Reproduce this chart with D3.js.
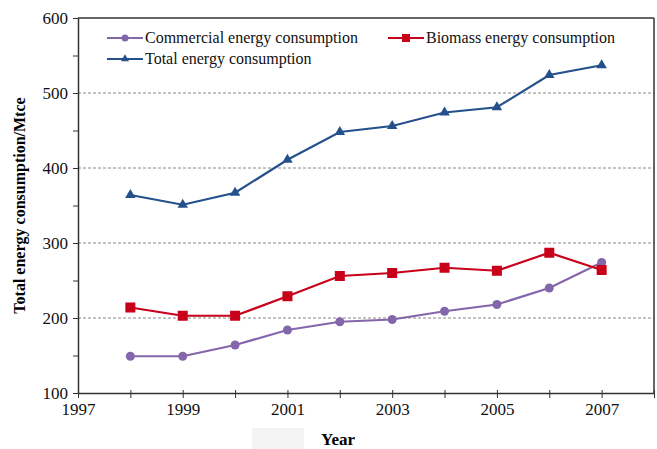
<!DOCTYPE html>
<html>
<head>
<meta charset="utf-8">
<script src="https://cdn.jsdelivr.net/npm/d3@7"></script>
<style>
  body { margin: 0; background: #fff; }
  svg text { font-family: "Liberation Serif", "Times New Roman", serif; }
</style>
</head>
<body>
<svg id="chart" width="657" height="449"></svg>
<script>
// Data
const years = [1998, 1999, 2000, 2001, 2002, 2003, 2004, 2005, 2006, 2007];
const commercial = [149, 149, 164, 184, 195, 198, 209, 218, 240, 274];
const biomass = [214, 203, 203, 229, 256, 260, 267, 263, 287, 264];
const total = [364, 351, 367, 411, 448, 456, 474, 481, 524, 537];
const xTickLabels = [1997, 1999, 2001, 2003, 2005, 2007];
const yTickLabels = [100, 200, 300, 400, 500, 600];
const gridValues = [200, 300, 400, 500];

const series = [
    { name: "Commercial energy consumption", values: commercial, color: "#8466aa", marker: "circle" },
    { name: "Biomass energy consumption", values: biomass, color: "#c8001a", marker: "square" },
    { name: "Total energy consumption", values: total, color: "#24508c", marker: "triangle" }
];

const serif = '"Liberation Serif", "Times New Roman", serif';

const svg = d3.select("#chart");
const margin = { top: 18, right: 3, bottom: 56, left: 78 };
const width = 657 - margin.left - margin.right;
const height = 449 - margin.top - margin.bottom;

const g = svg.append("g").attr("transform", `translate(${margin.left},${margin.top})`);

const x = d3.scaleLinear().domain([1997, 2008]).range([0, width]);
const y = d3.scaleLinear().domain([100, 600]).range([height, 0]);

// faint gray patch under the axis (scan artifact in the original)
svg.append("rect")
    .attr("x", 252).attr("y", 428).attr("width", 52).attr("height", 21)
    .attr("fill", "#f3f3f3");

// dashed gridlines
g.selectAll(".grid")
    .data(gridValues)
    .enter().append("line")
    .attr("x1", 0).attr("x2", width)
    .attr("y1", d => y(d)).attr("y2", d => y(d))
    .attr("stroke", "#888")
    .attr("stroke-width", 1)
    .attr("stroke-dasharray", "3 2");

// frame: top and right
g.append("line").attr("x1", 0).attr("x2", width).attr("y1", 0).attr("y2", 0)
    .attr("stroke", "#333").attr("stroke-width", 1.5);
g.append("line").attr("x1", width).attr("x2", width).attr("y1", 0).attr("y2", height)
    .attr("stroke", "#333").attr("stroke-width", 1.5);

// y axis with minor ticks
const yAxis = g.append("g")
    .call(d3.axisLeft(y).tickValues(d3.range(100, 601, 50)).tickSize(5).tickSizeOuter(0)
        .tickFormat(d => yTickLabels.includes(d) ? d : ""))
    .attr("font-family", serif);
yAxis.select(".domain").attr("stroke", "#333").attr("stroke-width", 1.5);
yAxis.selectAll(".tick line").attr("stroke", "#333");
yAxis.selectAll("text")
    .attr("x", -10)
    .style("font-family", serif)
    .style("font-size", "17px")
    .attr("fill", "#111");

// x axis, ticks every year, labels every 2 years
const xAxis = g.append("g")
    .attr("transform", `translate(0,${height})`)
    .call(d3.axisBottom(x).tickValues(d3.range(1997, 2009)).tickSize(5).tickSizeOuter(0)
        .tickFormat(d => xTickLabels.includes(d) ? d : ""))
    .attr("font-family", serif);
xAxis.select(".domain").attr("stroke", "#333").attr("stroke-width", 1.5);
xAxis.selectAll(".tick line").attr("stroke", "#333").attr("y1", -3);
xAxis.selectAll("text")
    .attr("y", 10)
    .style("font-family", serif)
    .style("font-size", "17px")
    .attr("fill", "#111");

// axis titles
svg.append("text")
    .attr("transform", `translate(25,${margin.top + height / 2}) rotate(-90)`)
    .attr("text-anchor", "middle")
    .style("font-size", "16px")
    .style("font-weight", "bold")
    .text("Total energy consumption/Mtce");

svg.append("text")
    .attr("x", 338)
    .attr("y", 445)
    .attr("text-anchor", "middle")
    .style("font-size", "17px")
    .style("font-weight", "bold")
    .text("Year");

const line = d3.line().x((d, i) => x(years[i])).y(d => y(d));

function drawMarker(sel, type, color) {
    if (type === "circle") {
        sel.append("circle").attr("r", 4.5).attr("fill", color);
    } else if (type === "square") {
        sel.append("rect").attr("x", -5).attr("y", -5).attr("width", 10).attr("height", 10).attr("fill", color);
    } else {
        sel.append("path").attr("d", d3.symbol(d3.symbolTriangle, 48)()).attr("fill", color);
    }
}

series.forEach(s => {
    g.append("path")
        .datum(s.values)
        .attr("d", line)
        .attr("fill", "none")
        .attr("stroke", s.color)
        .attr("stroke-width", 2.2);

    g.selectAll(null)
        .data(s.values)
        .enter().append("g")
        .attr("transform", (d, i) => `translate(${x(years[i])},${y(d)})`)
        .each(function () { drawMarker(d3.select(this), s.marker, s.color); });
});

// legend
const legendPos = [
    { x: 107, y: 38 },
    { x: 388, y: 38 },
    { x: 107, y: 59 }
];
series.forEach((s, i) => {
    const lg = svg.append("g").attr("transform", `translate(${legendPos[i].x},${legendPos[i].y})`);
    lg.append("line").attr("x1", 0).attr("x2", 36).attr("y1", 0).attr("y2", 0)
        .attr("stroke", s.color).attr("stroke-width", 2.2);
    const m = lg.append("g").attr("transform", "translate(18,0)");
    if (s.marker === "circle") m.append("circle").attr("r", 3.5).attr("fill", s.color);
    else if (s.marker === "square") m.append("rect").attr("x", -4).attr("y", -4).attr("width", 8).attr("height", 8).attr("fill", s.color);
    else m.append("path").attr("d", d3.symbol(d3.symbolTriangle, 28)()).attr("fill", s.color);
    lg.append("text")
        .attr("x", 38)
        .attr("y", 5)
        .style("font-size", "16px")
        .attr("fill", "#111")
        .text(s.name);
});
</script>
</body>
</html>
